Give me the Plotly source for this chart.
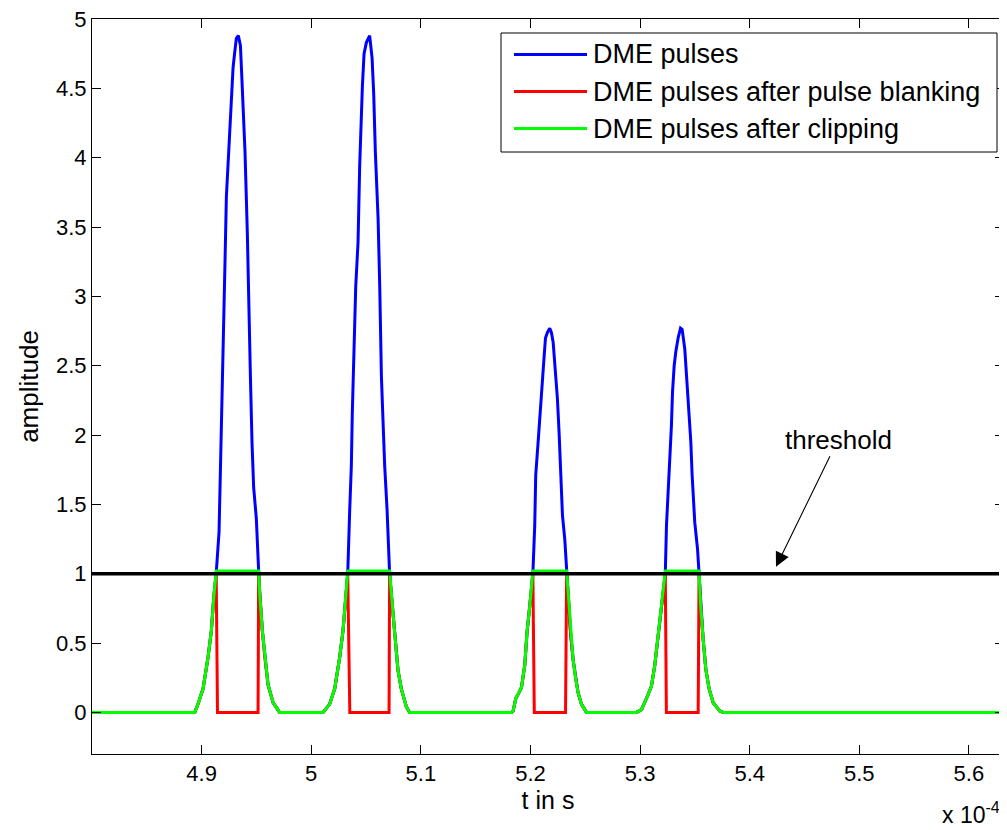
import plotly.graph_objects as go

# ---- data (time in microseconds, amplitude unitless) ----
BLUE_T = [480.0,
          489.37, 489.67, 490.13, 490.59, 490.89, 491.10, 491.33,
          491.59, 491.71, 491.80, 491.95, 492.05, 492.14, 492.26, 492.47, 492.71, 492.87, 493.02, 493.17,
          493.35, 493.54, 493.63, 493.78, 493.96, 494.17, 494.30, 494.45, 494.60, 494.75, 494.99, 495.20,
          495.30, 495.54, 495.76, 496.06, 496.52, 497.12,
          501.08, 501.68, 502.14, 502.60, 502.90, 503.14, 503.33,
          503.51, 503.66, 503.75, 503.87, 504.06, 504.27, 504.42, 504.67, 504.82, 505.03, 505.33,
          505.55, 505.70, 505.85, 506.10, 506.25, 506.40, 506.55, 506.70, 506.92, 507.15,
          507.31, 507.62, 507.92, 508.22, 508.68, 508.98,
          518.26, 518.42, 518.66, 518.87, 519.18, 519.48, 519.69, 519.94, 520.15, 520.22,
          520.39, 520.48, 520.70, 520.85, 521.06, 521.25, 521.37, 521.55, 521.76,
          521.91, 522.07, 522.22, 522.46, 522.61, 522.74, 522.92, 523.13, 523.30,
          523.43, 523.65, 523.89, 524.13, 524.35, 524.65, 525.11,
          529.67, 530.13, 530.58, 531.04, 531.34, 531.65, 531.95, 532.20, 532.30,
          532.41, 532.56, 532.71, 532.86, 532.96, 533.11, 533.26, 533.47, 533.69,
          533.84, 534.08, 534.23, 534.45, 534.63, 534.75, 534.99, 535.24, 535.38,
          535.51, 535.75, 536.00, 536.30, 536.67, 537.27, 537.58,
          563.2]
BLUE_A = [0.0,
          0.0, 0.06, 0.17, 0.40, 0.59, 0.82, 1.00,
          1.30, 1.78, 2.17, 2.56, 2.91, 3.27, 3.72, 4.04, 4.36, 4.65, 4.76, 4.86,
          4.88, 4.81, 4.65, 4.36, 4.04, 3.46, 3.07, 2.43, 1.94, 1.62, 1.40, 1.00,
          0.85, 0.59, 0.40, 0.20, 0.07, 0.0,
          0.0, 0.06, 0.17, 0.40, 0.59, 0.85, 1.00,
          1.46, 1.78, 2.17, 2.56, 3.07, 3.39, 3.94, 4.52, 4.75, 4.83, 4.88,
          4.72, 4.46, 4.04, 3.56, 3.07, 2.43, 2.10, 1.78, 1.46, 1.00,
          0.85, 0.56, 0.30, 0.17, 0.04, 0.0,
          0.0, 0.01, 0.10, 0.13, 0.18, 0.34, 0.58, 0.77, 0.96, 1.00,
          1.35, 1.71, 1.95, 2.14, 2.41, 2.57, 2.70, 2.74, 2.77,
          2.74, 2.67, 2.53, 2.26, 2.02, 1.73, 1.42, 1.25, 1.00,
          0.87, 0.58, 0.38, 0.24, 0.14, 0.06, 0.0,
          0.0, 0.02, 0.10, 0.19, 0.34, 0.55, 0.75, 0.94, 1.00,
          1.35, 1.56, 1.83, 2.07, 2.31, 2.50, 2.60, 2.70, 2.77,
          2.76, 2.62, 2.43, 2.19, 1.95, 1.71, 1.37, 1.18, 1.00,
          0.79, 0.53, 0.31, 0.17, 0.07, 0.01, 0.0,
          0.0]

RED_T = [480.0,
         489.37, 489.67, 490.13, 490.59, 490.89, 491.10, 491.33, 491.45, 495.15, 495.20,
         495.30, 495.54, 495.76, 496.06, 496.52, 497.12,
         501.08, 501.68, 502.14, 502.60, 502.90, 503.14, 503.33, 503.52, 507.10, 507.15,
         507.31, 507.62, 507.92, 508.22, 508.68, 508.98,
         518.26, 518.42, 518.66, 518.87, 519.18, 519.48, 519.69, 519.94, 520.15, 520.22, 520.35, 523.20, 523.30,
         523.43, 523.65, 523.89, 524.13, 524.35, 524.65, 525.11,
         529.67, 530.13, 530.58, 531.04, 531.34, 531.65, 531.95, 532.20, 532.30, 532.40, 535.30, 535.38,
         535.51, 535.75, 536.00, 536.30, 536.67, 537.27, 537.58,
         563.2]
RED_A = [0.0,
         0.0, 0.06, 0.17, 0.40, 0.59, 0.82, 1.00, 0.0, 0.0, 1.00,
         0.85, 0.59, 0.40, 0.20, 0.07, 0.0,
         0.0, 0.06, 0.17, 0.40, 0.59, 0.85, 1.00, 0.0, 0.0, 1.00,
         0.85, 0.56, 0.30, 0.17, 0.04, 0.0,
         0.0, 0.01, 0.10, 0.13, 0.18, 0.34, 0.58, 0.77, 0.96, 1.00, 0.0, 0.0, 1.00,
         0.87, 0.58, 0.38, 0.24, 0.14, 0.06, 0.0,
         0.0, 0.02, 0.10, 0.19, 0.34, 0.55, 0.75, 0.94, 1.00, 0.0, 0.0, 1.00,
         0.79, 0.53, 0.31, 0.17, 0.07, 0.01, 0.0,
         0.0]

GREEN_T = [480.0,
           489.37, 489.67, 490.13, 490.59, 490.89, 491.10, 491.33, 495.20,
           495.30, 495.54, 495.76, 496.06, 496.52, 497.12,
           501.08, 501.68, 502.14, 502.60, 502.90, 503.14, 503.33, 507.15,
           507.31, 507.62, 507.92, 508.22, 508.68, 508.98,
           518.26, 518.42, 518.66, 518.87, 519.18, 519.48, 519.69, 519.94, 520.15, 520.22, 523.30,
           523.43, 523.65, 523.89, 524.13, 524.35, 524.65, 525.11,
           529.67, 530.13, 530.58, 531.04, 531.34, 531.65, 531.95, 532.20, 532.30, 535.38,
           535.51, 535.75, 536.00, 536.30, 536.67, 537.27, 537.58,
           563.2]
GREEN_A = [0.0,
           0.0, 0.06, 0.17, 0.40, 0.59, 0.82, 1.02, 1.02,
           0.85, 0.59, 0.40, 0.20, 0.07, 0.0,
           0.0, 0.06, 0.17, 0.40, 0.59, 0.85, 1.02, 1.02,
           0.85, 0.56, 0.30, 0.17, 0.04, 0.0,
           0.0, 0.01, 0.10, 0.13, 0.18, 0.34, 0.58, 0.77, 0.96, 1.02, 1.02,
           0.87, 0.58, 0.38, 0.24, 0.14, 0.06, 0.0,
           0.0, 0.02, 0.10, 0.19, 0.34, 0.55, 0.75, 0.94, 1.02, 1.02,
           0.79, 0.53, 0.31, 0.17, 0.07, 0.01, 0.0,
           0.0]

THRESHOLD_T = [480.0, 563.2]
THRESHOLD_A = [1.0, 1.0]

SERIES_NAMES = ["DME pulses", "DME pulses after pulse blanking", "DME pulses after clipping"]
SERIES_COLORS = ["#0000ff", "#ff0000", "#00ff00"]
X_TICKS = [4.9, 5.0, 5.1, 5.2, 5.3, 5.4, 5.5, 5.6]
X_TICK_TEXT = ["4.9", "5", "5.1", "5.2", "5.3", "5.4", "5.5", "5.6"]
Y_TICKS = [0, 0.5, 1, 1.5, 2, 2.5, 3, 3.5, 4, 4.5, 5]
Y_TICK_TEXT = ["0", "0.5", "1", "1.5", "2", "2.5", "3", "3.5", "4", "4.5", "5"]
ARROW_TIP = (542.4, 1.05)  # (microseconds, amplitude)

US_PER_AXIS_UNIT = 100.0  # axis shown in units of 1e-4 s


def to_axis(ts):
    return [t / US_PER_AXIS_UNIT for t in ts]


FONT = "Liberation Sans, Arial, Helvetica, sans-serif"
PAGE_OFFSET = 8  # default body margin of the html page
W, H = 999, 822
ML, MR, MT, MB = 84, 3, 11, 76
PW, PH = W - ML - MR, H - MT - MB


def px_x(px):
    # screen pixel -> paper fraction
    return (px - PAGE_OFFSET - ML) / PW


def px_y(py):
    return 1 - (py - PAGE_OFFSET - MT) / PH


fig = go.Figure()
series = [(BLUE_T, BLUE_A), (RED_T, RED_A), (GREEN_T, GREEN_A)]
for (ts, amps), name, col in zip(series, SERIES_NAMES, SERIES_COLORS):
    fig.add_trace(go.Scatter(x=to_axis(ts), y=amps, mode="lines", name=name,
                             showlegend=False, line=dict(color=col, width=3)))
fig.add_trace(go.Scatter(x=to_axis(THRESHOLD_T), y=THRESHOLD_A, mode="lines", showlegend=False,
                         name="threshold", line=dict(color="#000000", width=3.5)))

axis_common = dict(
    showline=True, linecolor="black", linewidth=1, mirror="ticks",
    ticks="inside", ticklen=9, tickcolor="black", tickwidth=1,
    showgrid=False, zeroline=False, automargin=False, ticklabeloverflow="allow",
    tickfont=dict(family=FONT, size=22, color="black"),
)

fig.update_layout(
    width=W, height=H,
    margin=dict(l=ML, r=MR, t=MT, b=MB),
    paper_bgcolor="white", plot_bgcolor="white",
    font=dict(family=FONT, color="black"),
    xaxis=dict(range=[4.8, 5.632], tickvals=X_TICKS, ticktext=X_TICK_TEXT,
               title=dict(text="t in s", font=dict(family=FONT, size=25), standoff=3),
               **axis_common),
    yaxis=dict(range=[-0.3, 5], tickvals=Y_TICKS, ticktext=Y_TICK_TEXT,
               title=dict(text="amplitude", font=dict(family=FONT, size=26), standoff=9),
               **axis_common),
    showlegend=False,
)

# legend box (drawn like MATLAB's: long line samples)
fig.add_shape(type="rect", xref="paper", yref="paper",
              x0=px_x(501), x1=px_x(997), y0=px_y(152), y1=px_y(33),
              line=dict(color="black", width=1), fillcolor="white", layer="above")
for i, (name, col) in enumerate(zip(SERIES_NAMES, SERIES_COLORS)):
    row_y = 54.5 + i * 37
    fig.add_shape(type="line", xref="paper", yref="paper",
                  x0=px_x(514), x1=px_x(587), y0=px_y(row_y), y1=px_y(row_y),
                  line=dict(color=col, width=3), layer="above")
    fig.add_annotation(x=px_x(591), y=px_y(row_y), xref="paper", yref="paper",
                       xanchor="left", yanchor="middle", text=name, showarrow=False,
                       font=dict(family=FONT, size=27, color="black"))

fig.add_annotation(x=ARROW_TIP[0] / US_PER_AXIS_UNIT, y=ARROW_TIP[1], xref="x", yref="y",
                   text="threshold", showarrow=True, arrowhead=2, arrowsize=2.6, arrowwidth=1.1,
                   arrowcolor="black", ax=62, ay=-127, axref="pixel", ayref="pixel",
                   font=dict(family=FONT, size=26, color="black"))

fig.add_annotation(x=px_x(1001), y=px_y(829), xref="paper", yref="paper",
                   xanchor="right", yanchor="bottom", borderpad=0,
                   text="x 10<sup>-4</sup>", showarrow=False,
                   font=dict(family=FONT, size=23, color="black"))

fig.write_html("out.html")
